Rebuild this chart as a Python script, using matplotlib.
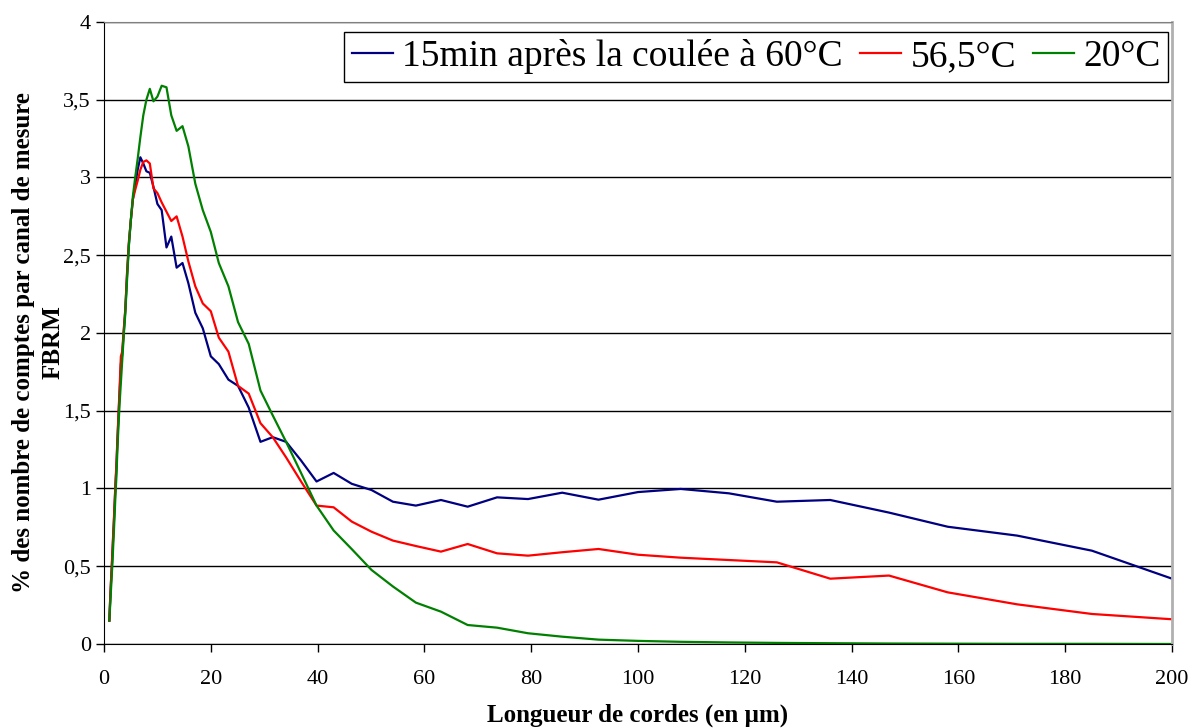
import matplotlib.pyplot as plt

plt.rcParams['font.family'] = ['Liberation Serif', 'DejaVu Serif']

# FBRM channel mid-points (um)
chords = [1.00, 1.08, 1.17, 1.26, 1.36, 1.47, 1.58, 1.71, 1.85, 2.00,
          2.15, 2.33, 2.51, 2.71, 2.93, 3.16, 3.41, 3.69, 3.98, 4.30,
          4.64, 5.01, 5.41, 5.84, 6.31, 6.81, 7.36, 7.94, 8.58, 9.26,
          10.0, 10.8, 11.7, 12.6, 13.6, 14.7, 15.8, 17.1, 18.5, 20.0,
          21.5, 23.3, 25.1, 27.1, 29.3, 31.6, 34.1, 36.9, 39.8, 43.0,
          46.4, 50.1, 54.1, 58.4, 63.1, 68.1, 73.6, 79.4, 85.8, 92.6,
          100, 108, 117, 126, 136, 147, 158, 171, 185, 200]

pct_60 = [0.15, 0.22, 0.29, 0.36, 0.43, 0.50, 0.58, 0.68, 0.78, 0.90,
          1.02, 1.14, 1.30, 1.46, 1.62, 1.80, 1.86, 2.00, 2.14, 2.36,
          2.56, 2.72, 2.86, 2.95, 3.05, 3.13, 3.09, 3.04, 3.03, 2.94,
          2.83, 2.79, 2.55, 2.62, 2.42, 2.45, 2.32, 2.13, 2.03, 1.85,
          1.80, 1.70, 1.66, 1.52, 1.30, 1.33, 1.30, 1.18, 1.045, 1.10,
          1.03, 0.99, 0.915, 0.89, 0.926, 0.883, 0.943, 0.932, 0.973, 0.928,
          0.977, 0.997, 0.969, 0.915, 0.926, 0.845, 0.754, 0.697, 0.60, 0.42]

pct_565 = [0.15, 0.23, 0.30, 0.37, 0.44, 0.52, 0.60, 0.70, 0.80, 0.92,
           1.04, 1.16, 1.32, 1.48, 1.65, 1.85, 1.88, 2.02, 2.15, 2.38,
           2.58, 2.72, 2.86, 2.92, 2.98, 3.05, 3.10, 3.11, 3.09, 2.93,
           2.90, 2.84, 2.78, 2.72, 2.75, 2.62, 2.46, 2.30, 2.19, 2.14,
           1.97, 1.88, 1.66, 1.61, 1.42, 1.33, 1.20, 1.045, 0.89, 0.879,
           0.787, 0.722, 0.665, 0.63, 0.594, 0.643, 0.583, 0.568, 0.59, 0.611,
           0.574, 0.555, 0.54, 0.525, 0.42, 0.44, 0.332, 0.255, 0.193, 0.159]

pct_20 = [0.15, 0.20, 0.26, 0.32, 0.38, 0.45, 0.52, 0.62, 0.72, 0.84,
          0.96, 1.08, 1.25, 1.40, 1.55, 1.68, 1.82, 1.98, 2.12, 2.33,
          2.55, 2.72, 2.88, 3.00, 3.12, 3.26, 3.40, 3.50, 3.57, 3.49,
          3.52, 3.59, 3.58, 3.40, 3.30, 3.33, 3.20, 2.96, 2.79, 2.65,
          2.45, 2.30, 2.07, 1.93, 1.63, 1.47, 1.30, 1.10, 0.89, 0.73,
          0.61, 0.476, 0.37, 0.266, 0.208, 0.122, 0.105, 0.069, 0.047, 0.028,
          0.02, 0.014, 0.01, 0.007, 0.005, 0.003, 0.002, 0.001, 0.001, 0.0]

labels = ['15min après la coulée à 60°C', '56,5°C', '20°C']
colors = ['#000080', '#FF0000', '#008000']

fig = plt.figure(figsize=(11.94, 7.28), dpi=100)
ax = fig.add_axes([0.0871, 0.1154, 0.8945, 0.8544])

for ys, lab, c in zip([pct_60, pct_565, pct_20], labels, colors):
    ax.plot(chords, ys, color=c, lw=1.6, label=lab)

ax.set_xlim(0, 200)
ax.set_ylim(0, 4)
ax.set_xticks(range(0, 201, 20))
ax.set_yticks([0, 0.5, 1, 1.5, 2, 2.5, 3, 3.5, 4])
ax.set_yticklabels(['0', '0,5', '1', '1,5', '2', '2,5', '3', '3,5', '4'])
ax.tick_params(labelsize=16, direction='out', length=6, width=1)
ax.tick_params(axis='x', pad=13)
ax.yaxis.grid(True, color='black', lw=1)
ax.set_axisbelow(True)

ax.spines['top'].set_color('#808080')
ax.spines['right'].set_color('#B0B0B0')
ax.spines['right'].set_linewidth(2)

ax.set_xlabel('Longueur de cordes (en µm)', fontsize=18, fontweight='bold', labelpad=10)
ax.set_ylabel('% des nombre de comptes par canal de mesure\nFBRM', fontsize=18,
              fontweight='bold', linespacing=1.35)
ax.yaxis.set_label_coords(-0.037, 0.485)

leg = ax.legend(loc='upper right', bbox_to_anchor=(1.0, 0.99), ncol=3, fontsize=27,
                frameon=True, fancybox=False, edgecolor='black', framealpha=1,
                handlelength=1.1, handletextpad=0.25, columnspacing=0.45,
                borderpad=0.2, borderaxespad=0.1)
leg.get_frame().set_linewidth(1)

fig.savefig('out.png', dpi=100)
